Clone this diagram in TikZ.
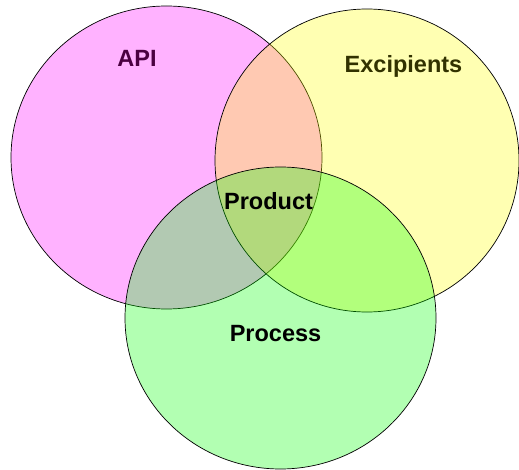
\documentclass[tikz,border=0pt]{standalone}
\usepackage{fontspec}
\setmainfont{Liberation Sans}
\usepackage{tikz}
\usetikzlibrary{positioning}

\definecolor{apifill}{RGB}{255,0,255}
\definecolor{excfill}{RGB}{255,255,0}
\definecolor{procfill}{RGB}{0,255,0}
\definecolor{apitext}{RGB}{75,0,65}
\definecolor{exctext}{RGB}{50,50,0}

\tikzset{
  setcirc/.style={draw=black,line width=0.7pt,fill opacity=0.3},
  setlabel/.style={anchor=base,inner sep=0pt,
    font=\fontsize{23.5}{26}\selectfont\bfseries}
}

\begin{document}
\begin{tikzpicture}[x=1pt,y=-1pt]
\useasboundingbox (0,0) rectangle (519,470);
\draw[setcirc,fill=apifill] (166.5,157.5) ellipse (155.5 and 151.5);
\draw[setcirc,fill=excfill] (367,160.5) ellipse (152 and 151.5);
\draw[setcirc,fill=procfill] (280.5,318) ellipse (155.5 and 151);
\node[setlabel,text=apitext] (api) at (137,67) {API};
\node[setlabel,text=exctext] (exc) at (403.5,72.5) {Excipients};
\node[setlabel] (prod) at (268.5,209.5) {Product};
\node[setlabel] (proc) at (275.5,341) {Process};
\end{tikzpicture}
\end{document}
